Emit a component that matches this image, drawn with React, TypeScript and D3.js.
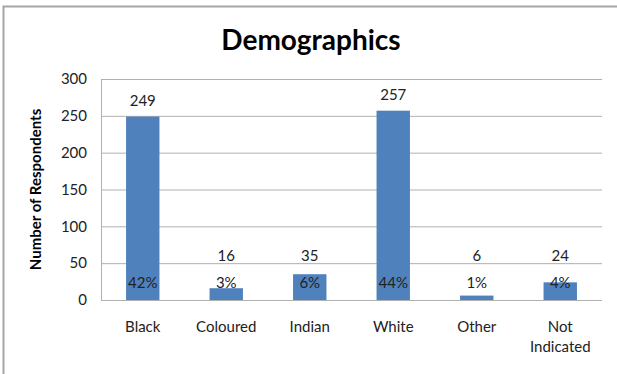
import React from "react";
import * as d3 from "d3";

const categories = ["Black", "Coloured", "Indian", "White", "Other", "Not Indicated"];
const respondents = [249, 16, 35, 257, 6, 24];
const percentLabels = ["42%", "3%", "6%", "44%", "1%", "4%"];
const yTicks = [0, 50, 100, 150, 200, 250, 300];

const W = 617;
const H = 374;
const FONT = "Lato, 'Open Sans', sans-serif";

export default function App() {
  const x = d3
    .scaleBand<string>()
    .domain(categories)
    .range([101, 602])
    .paddingInner(0.6)
    .paddingOuter(0.3);
  const y = d3.scaleLinear().domain([0, 300]).range([300, 79]);

  return (
    <svg
      width={W}
      height={H}
      style={{ position: "absolute", left: 0, top: 0, background: "#fff" }}
      fontFamily={FONT}
    >
      <rect x={0} y={0} width={W} height={H} fill="#fff" />
      <path d={`M3.5,${H} L3.5,6.5 L${W},6.5`} fill="none" stroke="#a6a6a6" strokeWidth={2} />

      <text x={311} y={50} textAnchor="middle" fontSize={28} fontWeight="bold" fill="#000">
        Demographics
      </text>

      {yTicks.map((t) => (
        <g key={t}>
          {t > 0 && (
            <line x1={101} x2={602} y1={y(t) + 0.5} y2={y(t) + 0.5} stroke="#b0b0b0" strokeWidth={1} />
          )}
          <text x={87} y={y(t)} dy="0.35em" textAnchor="end" fontSize={15} fill="#222">
            {t}
          </text>
        </g>
      ))}
      <line x1={101.5} x2={101.5} y1={79} y2={300} stroke="#b0b0b0" />
      <line x1={101} x2={602} y1={300.5} y2={300.5} stroke="#b0b0b0" />

      <text
        transform={`translate(41,${(79 + 300) / 2}) rotate(-90)`}
        textAnchor="middle"
        fontSize={15}
        fontWeight="bold"
        fill="#000"
      >
        Number of Respondents
      </text>

      {categories.map((c, i) => {
        const v = respondents[i];
        const bx = x(c)!;
        const bw = x.bandwidth();
        const cx = bx + bw / 2;
        const top = y(v);
        const valueY = Math.min(top - 16, 256);
        const lines = c.split(" ");
        return (
          <g key={c}>
            <rect x={bx} y={top} width={bw} height={y(0) - top} fill="#4F81BD" />
            <text x={cx} y={valueY} dy="0.35em" textAnchor="middle" fontSize={15} fill="#222">
              {v}
            </text>
            <text x={cx} y={283} dy="0.35em" textAnchor="middle" fontSize={15} fill="#222">
              {percentLabels[i]}
            </text>
            {lines.map((ln, k) => (
              <text
                key={k}
                x={cx}
                y={327 + k * 20}
                dy="0.35em"
                textAnchor="middle"
                fontSize={15}
                fill="#222"
              >
                {ln}
              </text>
            ))}
          </g>
        );
      })}
    </svg>
  );
}
